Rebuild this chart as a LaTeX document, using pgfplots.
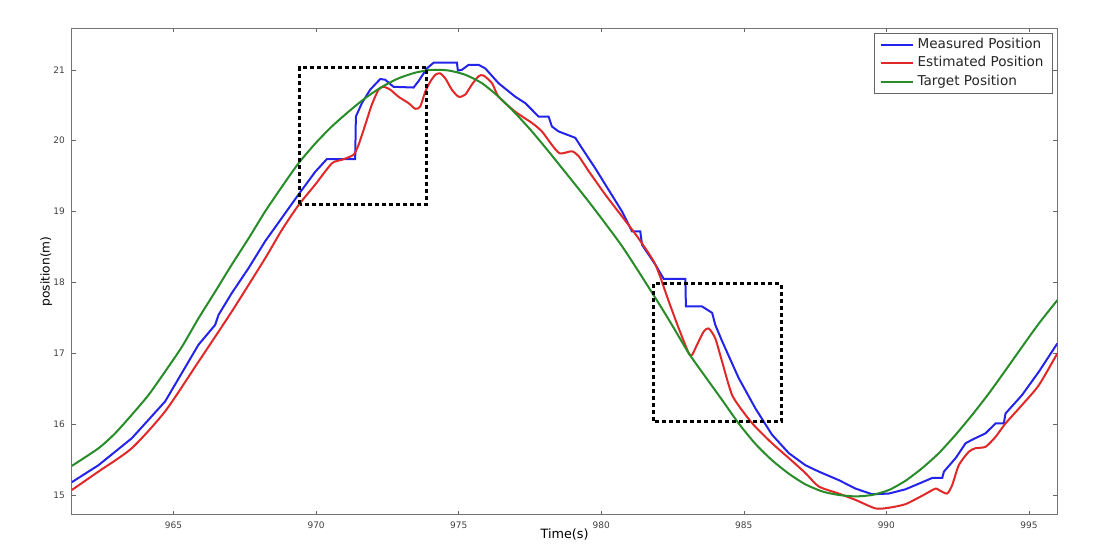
\documentclass[border=0pt]{standalone}
\usepackage{fontspec}
\setmainfont{DejaVu Sans}
\usepackage{pgfplots}
\pgfplotsset{compat=1.18}
\definecolor{mblue}{RGB}{35,35,235}
\definecolor{mred}{RGB}{225,40,40}
\definecolor{mgreen}{RGB}{40,140,40}
\begin{document}
\begin{tikzpicture}
\begin{axis}[
  name=ax,
  scale only axis,
  width=492.8pt, height=243.4pt,
  xmin=961.43, xmax=996.0, ymin=14.72, ymax=21.59,
  xtick={965,970,...,995}, ytick={15,16,...,21},
  axis line style={black!55},
  tick align=inside, major tick length=2pt,
  tick style={black!60},
  /pgf/number format/assume math mode=true,
  /pgf/number format/set thousands separator={},
  tick label style={font=\fontsize{4.5}{5}\selectfont, text=black!75},
  xlabel={Time(s)}, ylabel={position(m)},
  xlabel style={font=\fontsize{6.4}{7}\selectfont, at={(axis description cs:0.5,-0.041)}, anchor=center},
  ylabel style={font=\fontsize{6.1}{7}\selectfont, at={(axis description cs:-0.026,0.5)}, anchor=center},
  legend style={at={(0.9955,0.99)}, anchor=north east, draw=black!60, font=\fontsize{6.8}{8.8}\selectfont,
    text=black!85, cells={anchor=west}, inner xsep=2.5pt, inner ysep=0.5pt, row sep=-1.5pt},
  legend image code/.code={\draw[#1] (0pt,0pt) -- (10pt,0pt); \path (0pt,0pt) -- (16pt,0pt);},
]
\addplot[mblue, line width=1pt] coordinates {
(961.43,15.18) (962.365,15.42) (963.534,15.80) (964.704,16.32) (965.873,17.12)
(966.458,17.40) (966.575,17.54) (967.043,17.85) (967.628,18.20) (968.212,18.58)
(968.797,18.91) (969.382,19.24) (969.967,19.56) (970.376,19.74) (971.37,19.74)
(971.394,20.34) (971.605,20.53) (971.897,20.72) (972.248,20.87) (972.423,20.86)
(972.715,20.76) (973.417,20.75) (973.592,20.84) (973.885,21.02) (974.119,21.10)
(974.938,21.10) (974.973,20.99) (975.113,21.00) (975.347,21.07) (975.698,21.07)
(975.932,21.02) (976.40,20.81) (976.985,20.62) (977.336,20.53) (977.803,20.34)
(978.154,20.34) (978.271,20.20) (978.505,20.13) (979.09,20.04) (979.33,19.89)
(979.79,19.61) (980.73,19.00) (981.08,18.72) (981.37,18.72) (981.43,18.53)
(981.90,18.25) (982.19,18.05) (982.95,18.05) (982.97,17.66) (983.54,17.66)
(983.89,17.57) (984.0,17.40) (984.24,17.17) (984.82,16.65) (985.41,16.22)
(985.99,15.85) (986.58,15.59) (987.16,15.42) (987.63,15.33) (988.33,15.21)
(988.92,15.09) (989.50,15.01) (990.09,15.02) (990.67,15.08) (991.26,15.18)
(991.61,15.24) (991.96,15.24) (992.02,15.33) (992.43,15.52) (992.78,15.73)
(993.01,15.78) (993.48,15.87) (993.83,16.01) (994.12,16.01) (994.18,16.15)
(994.76,16.41) (995.35,16.74) (996.0,17.14)
};
\addlegendentry{Measured Position}
\addplot[mred, line width=1pt, smooth, tension=0.4] coordinates {
(961.43,15.07) (962.365,15.33) (963.534,15.66) (964.704,16.18) (965.873,16.88)
(967.043,17.59) (968.212,18.34) (968.797,18.74) (969.382,19.09) (969.967,19.38)
(970.552,19.68) (970.90,19.73) (971.31,19.80) (971.487,19.94) (971.72,20.22)
(971.955,20.51) (972.19,20.72) (972.365,20.76) (972.60,20.72) (972.89,20.62)
(973.24,20.53) (973.476,20.45) (973.65,20.48) (973.827,20.69) (974.0,20.83)
(974.18,20.93) (974.35,20.95) (974.53,20.88) (974.76,20.72) (975.0,20.62)
(975.23,20.65) (975.46,20.79) (975.70,20.91) (975.87,20.92) (976.17,20.81)
(976.40,20.62) (976.98,20.41) (977.57,20.25) (977.92,20.13) (978.27,19.94)
(978.55,19.82) (978.97,19.85) (979.21,19.78) (979.56,19.57) (980.14,19.24)
(980.73,18.93) (981.31,18.62) (981.90,18.25) (982.37,17.73) (982.72,17.35)
(983.07,17.00) (983.19,16.98) (983.36,17.12) (983.60,17.31) (983.77,17.35)
(984.0,17.21) (984.24,16.88) (984.59,16.41) (985.06,16.13) (985.41,15.96)
(985.99,15.73) (986.58,15.52) (987.16,15.31) (987.63,15.12) (988.33,15.02)
(988.92,14.93) (989.62,14.81) (990.09,14.82) (990.67,14.87) (991.26,14.99)
(991.72,15.09) (991.84,15.07) (992.13,15.02) (992.31,15.14) (992.54,15.42)
(992.89,15.61) (993.13,15.66) (993.48,15.68) (993.83,15.82) (994.18,16.01)
(994.76,16.27) (995.35,16.55) (996.0,17.00)
};
\addlegendentry{Estimated Position}
\addplot[mgreen, line width=1pt, smooth, tension=0.4] coordinates {
(961.43,15.41) (962.37,15.66) (962.95,15.87) (963.53,16.13) (964.12,16.41)
(964.70,16.74) (965.29,17.09) (965.87,17.49) (966.46,17.87) (967.04,18.25)
(967.63,18.62) (968.21,19.00) (968.80,19.35) (969.38,19.68) (969.97,19.96)
(970.55,20.20) (971.14,20.41) (971.72,20.60) (972.31,20.76) (972.89,20.88)
(973.48,20.96) (974.06,21.00) (974.65,20.99) (975.23,20.93) (975.82,20.81)
(976.40,20.62) (976.98,20.39) (977.57,20.13) (978.15,19.85) (978.39,19.73)
(979.56,19.14) (980.73,18.51) (981.90,17.78) (982.48,17.40) (983.07,17.00)
(983.65,16.67) (984.24,16.34) (984.82,16.01) (985.41,15.72) (985.99,15.49)
(986.58,15.30) (987.16,15.15) (987.75,15.05) (988.33,15.00) (988.92,14.98)
(989.50,15.00) (990.09,15.07) (990.67,15.20) (991.26,15.38) (991.84,15.59)
(992.43,15.85) (993.01,16.13) (993.59,16.43) (994.18,16.76) (994.76,17.09)
(995.35,17.42) (996.0,17.75)
};
\addlegendentry{Target Position}
\draw[black, line width=1.5pt, dash pattern=on 2pt off 1.5pt] (axis cs:969.42,19.10) rectangle (axis cs:973.88,21.03);
\draw[black, line width=1.5pt, dash pattern=on 2pt off 1.5pt] (axis cs:981.84,16.04) rectangle (axis cs:986.32,17.98);
\end{axis}
\path (ax.south west) ++(-35.9pt,-19.5pt) coordinate (bl);
\path (ax.north east) ++(27.3pt,14pt) coordinate (tr);
\useasboundingbox (bl) rectangle (tr);
\end{tikzpicture}
\end{document}
